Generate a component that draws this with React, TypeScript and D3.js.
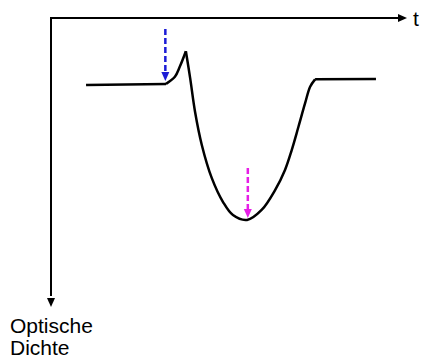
import React from "react";
import * as d3 from "d3";

// time (arbitrary units 0..100) and optical density (0..100, increasing downward)
const flatStartT = [9.9, 32.5];
const flatStartOD = [23.6, 23.2];
const riseT = [32.5, 35.0, 36.4, 38.1];
const riseOD = [23.2, 20.7, 17.1, 11.7];
const dipT = [38.1, 39.3, 40.7, 42.6, 45.4, 48.6, 51.4, 55.4, 59.5, 63.3, 66.1, 68.0, 69.9, 71.8, 73.2, 74.6];
const dipOD = [11.7, 21.1, 33.1, 44.7, 56.3, 64.8, 69.4, 71.1, 67.6, 60.6, 53.5, 46.5, 38.3, 29.9, 24.2, 21.6];
const flatEndT = [74.6, 91.8];
const flatEndOD = [21.6, 21.5];

const markerT = [32.3, 55.6];
const markerFrom = [3.9, 52.8];
const markerTo = [22.2, 70.4];
const markerColors = ["#1c1cd6", "#e61ee6"];

const axisLabelX = "t";
const axisLabelY = ["Optische", "Dichte"];

const W = 427;
const H = 360;

export default function App() {
  const x = d3.scaleLinear().domain([0, 100]).range([51, 405]);
  const y = d3.scaleLinear().domain([0, 100]).range([18, 302]);

  const zip = (ts: number[], ods: number[]) => ts.map((t, i) => [t, ods[i]] as [number, number]);
  const linLine = d3.line<[number, number]>().x((d) => x(d[0])).y((d) => y(d[1]));
  const smoothLine = d3
    .line<[number, number]>()
    .x((d) => x(d[0]))
    .y((d) => y(d[1]))
    .curve(d3.curveCatmullRom.alpha(0.5));

  const x0 = x(0);
  const y0 = y(0);
  const xEnd = x(100);
  const yEnd = y(100);

  return (
    <svg
      width={W}
      height={H}
      style={{ position: "absolute", left: 0, top: 0, background: "#fff" }}
      fontFamily="'Liberation Sans', Arial, sans-serif"
    >
      <rect width={W} height={H} fill="#fff" />
      {/* axes */}
      <path d={`M${x0},${yEnd - 6}L${x0},${y0}L${xEnd - 6},${y0}`} fill="none" stroke="#000" strokeWidth={2} />
      <path d={`M${xEnd + 2},${y0}L${xEnd - 7},${y0 - 4}L${xEnd - 7},${y0 + 4}Z`} fill="#000" />
      <path d={`M${x0},${yEnd + 5}L${x0 - 4},${yEnd - 4}L${x0 + 4},${yEnd - 4}Z`} fill="#000" />
      <text x={413} y={26} fontSize={21} fill="#000">
        {axisLabelX}
      </text>
      {axisLabelY.map((s, i) => (
        <text key={s} x={10} y={333 + i * 22} fontSize={21} fill="#000">
          {s}
        </text>
      ))}

      {/* curve */}
      <g fill="none" stroke="#000" strokeWidth={2.5} strokeLinejoin="miter">
        <path d={linLine(zip(flatStartT, flatStartOD)) || ""} />
        <path d={smoothLine(zip(riseT, riseOD)) || ""} />
        <path d={smoothLine(zip(dipT, dipOD)) || ""} />
        <path d={linLine(zip(flatEndT, flatEndOD)) || ""} />
      </g>

      {/* markers */}
      {markerT.map((t, i) => {
        const mx = x(t);
        const ya = y(markerFrom[i]);
        const yb = y(markerTo[i]);
        return (
          <g key={i}>
            <line
              x1={mx}
              x2={mx}
              y1={ya}
              y2={yb - 7}
              stroke={markerColors[i]}
              strokeWidth={2.5}
              strokeDasharray="6,3"
            />
            <path d={`M${mx},${yb}L${mx - 4},${yb - 9}L${mx + 4},${yb - 9}Z`} fill={markerColors[i]} />
          </g>
        );
      })}
    </svg>
  );
}
